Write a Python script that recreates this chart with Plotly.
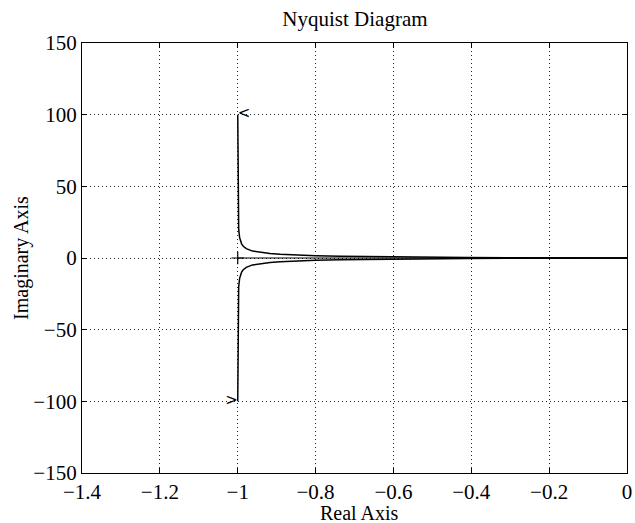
import plotly.graph_objects as go

# Lower branch (positive frequency)
lower_re = [-0.9999, -0.9996, -0.9991, -0.9975, -0.9951, -0.990, -0.9858, -0.978, -0.962,
            -0.9412, -0.917, -0.8909, -0.862, -0.80, -0.7353, -0.671, -0.6098, -0.50,
            -0.4098, -0.308, -0.20, -0.10, -0.038, -0.0099, -0.0001]
lower_im = [-100.0, -49.98, -33.30, -19.95, -14.22, -9.90, -8.215, -6.52, -4.81,
            -3.765, -3.06, -2.545, -2.16, -1.60, -1.225, -0.959, -0.762, -0.50,
            -0.3415, -0.205, -0.10, -0.033, -0.0077, -0.001, 0.0]
# Upper branch (negative frequency)
upper_re = [-0.9999, -0.9996, -0.9991, -0.9975, -0.9951, -0.990, -0.9858, -0.978, -0.962,
            -0.9412, -0.917, -0.8909, -0.862, -0.80, -0.7353, -0.671, -0.6098, -0.50,
            -0.4098, -0.308, -0.20, -0.10, -0.038, -0.0099, -0.0001]
upper_im = [100.0, 49.98, 33.30, 19.95, 14.22, 9.90, 8.215, 6.52, 4.81,
            3.765, 3.06, 2.545, 2.16, 1.60, 1.225, 0.959, 0.762, 0.50,
            0.3415, 0.205, 0.10, 0.033, 0.0077, 0.001, 0.0]
# Real-axis segment and critical point
axis_re = [-1.0, 0.0]
axis_im = [0.0, 0.0]
crit_re = [-1.0]
crit_im = [0.0]

x_ticks = [-1.4, -1.2, -1.0, -0.8, -0.6, -0.4, -0.2, 0.0]
x_labels = ["\u22121.4", "\u22121.2", "\u22121", "\u22120.8", "\u22120.6", "\u22120.4", "\u22120.2", "0"]
y_ticks = [-150, -100, -50, 0, 50, 100, 150]
y_labels = ["\u2212150", "\u2212100", "\u221250", "0", "50", "100", "150"]

FONT = "Liberation Serif, Times New Roman, serif"
line = dict(color="black", width=1.5)

fig = go.Figure()
fig.add_trace(go.Scatter(x=axis_re, y=axis_im, mode="lines", line=dict(color="black", width=1)))
fig.add_trace(go.Scatter(x=upper_re, y=upper_im, mode="lines", line=line))
fig.add_trace(go.Scatter(x=lower_re, y=lower_im, mode="lines", line=line))
fig.add_trace(go.Scatter(x=crit_re, y=crit_im, mode="markers",
                         marker=dict(symbol="cross-thin", size=9, line=dict(color="black", width=1.2))))
# direction arrows
fig.add_trace(go.Scatter(x=[upper_re[0]], y=[upper_im[0]], mode="text", text=["<"],
                         textposition="middle right", textfont=dict(family="DejaVu Sans", size=15, color="black")))
fig.add_trace(go.Scatter(x=[lower_re[0]], y=[lower_im[0]], mode="text", text=[">"],
                         textposition="middle left", textfont=dict(family="DejaVu Sans", size=15, color="black")))

axis_common = dict(showline=True, linecolor="black", linewidth=1.2, mirror="ticks",
                   ticks="inside", ticklen=5, tickcolor="black",
                   showgrid=True, gridcolor="#222", gridwidth=1, griddash="1px,3px",
                   zeroline=False, automargin=False, ticklabeloverflow="allow",
                   tickfont=dict(family=FONT, size=21, color="black"))

fig.update_layout(
    width=635, height=523,
    margin=dict(l=82, r=8, t=43, b=50),
    paper_bgcolor="white", plot_bgcolor="white",
    showlegend=False,
    title=dict(text="Nyquist Diagram", x=0.559, xanchor="center", y=0.965, yanchor="middle",
               font=dict(family=FONT, size=21, color="black")),
    xaxis=dict(range=[-1.4, 0], tickvals=x_ticks, ticktext=x_labels, **axis_common),
    yaxis=dict(range=[-150, 150], tickvals=y_ticks, ticktext=y_labels, **axis_common),
    annotations=[
        dict(text="Real Axis", xref="paper", yref="paper", x=0.51, y=-0.094,
             xanchor="center", yanchor="middle", showarrow=False,
             font=dict(family=FONT, size=20, color="black")),
        dict(text="Imaginary Axis", xref="paper", yref="paper", x=-0.112, y=0.5,
             xanchor="center", yanchor="middle", textangle=-90, showarrow=False,
             font=dict(family=FONT, size=20, color="black")),
    ],
)

# remove the default 8px page margin so the figure fills the window exactly
fig.write_html("out.html", config={"displayModeBar": False},
               post_script="document.body.style.margin='0';document.body.style.overflow='hidden';")
